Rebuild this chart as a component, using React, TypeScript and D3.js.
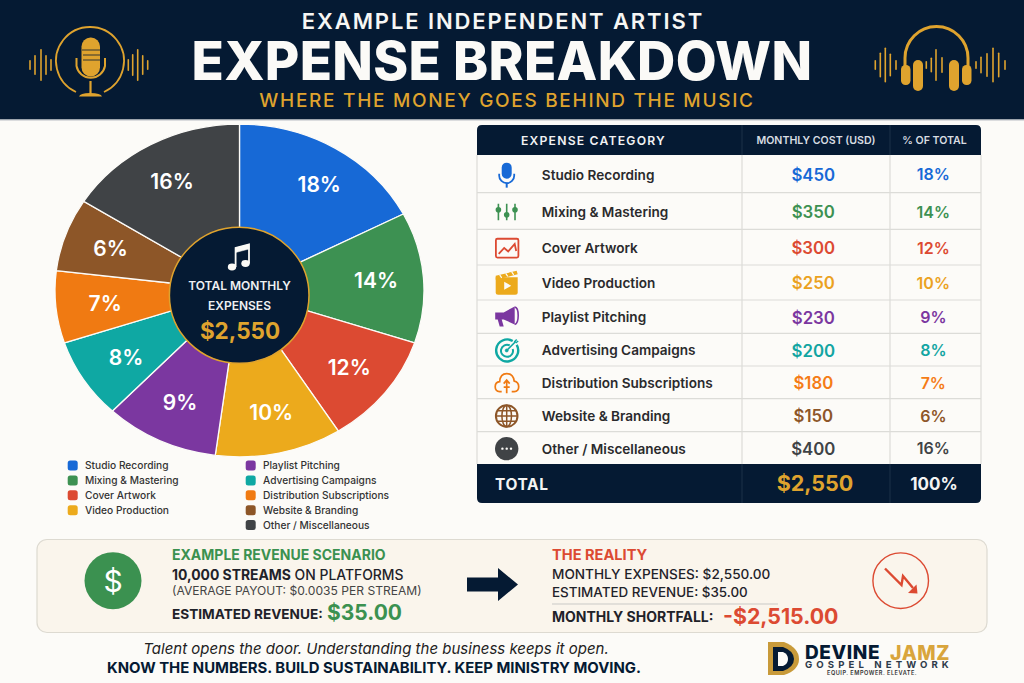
import * as d3 from "d3";
import type { ReactNode } from "react";

const categories = [
	"Studio Recording",
	"Mixing & Mastering",
	"Cover Artwork",
	"Video Production",
	"Playlist Pitching",
	"Advertising Campaigns",
	"Distribution Subscriptions",
	"Website & Branding",
	"Other / Miscellaneous",
];
const monthlyCosts = [450, 350, 300, 250, 230, 200, 180, 150, 400];
const percentLabels = [18, 14, 12, 10, 9, 8, 7, 6, 16];
// sizes of the slices as drawn, they do not quite follow the printed percentages
const sliceShares = [17.4, 12.7, 10.9, 11.1, 10, 7.8, 7, 7.1, 16];
const colors = ["#1769d6", "#3d9152", "#dc4a32", "#ecaa1c", "#7b37a0", "#0fa8a3", "#f07a12", "#8d5628", "#404346"];
const textColors = ["#1769d6", "#3d9152", "#dc4a32", "#eba21f", "#7b37a0", "#12a5a2", "#f57c16", "#8d5628", "#404346"];
const totalCost = "$2,550";

// layout only
const rowEdges = [155, 192.7, 229.3, 265, 300, 333.3, 366, 398.7, 431.7, 464];
const labelNudgeX = [8, -1, 1, 2, 0, 3, 3, 1, -1];

const NAVY = "#051a33";
const GOLD = "#dfa32e";
const PAPER = "#fcfbf8";
const FONT = "Inter, 'Noto Sans', sans-serif";

const waveMicLeft = [10, 20, 32, 20, 12];
const waveMicRight = [12, 22, 32, 20, 10];
const wavePhonesLeft = [10, 25, 35, 23, 10];
const wavePhonesMid = [8, 15, 32, 16];
const wavePhonesRight = [8, 17, 24, 35, 25, 10];

interface TProps {
	x: number;
	cy: number;
	size: number;
	weight?: number;
	fill?: string;
	anchor?: "start" | "middle" | "end";
	spacing?: number;
	italic?: boolean;
	children: ReactNode;
}

// text placed by the middle of its capitals
function T({ x, cy, size, weight = 500, fill = "#222", anchor = "start", spacing = 0, italic = false, children }: TProps) {
	return (
		<text
			x={x}
			y={cy + size * 0.364}
			fontFamily={FONT}
			fontSize={size}
			fontWeight={weight}
			fontStyle={italic ? "italic" : "normal"}
			fill={fill}
			textAnchor={anchor}
			letterSpacing={spacing}
		>
			{children}
		</text>
	);
}

function Wave({ xs, heights, cy }: { xs: number[]; heights: number[]; cy: number }) {
	return (
		<g fill={GOLD}>
			{heights.map((h, i) => (
				<rect key={i} x={xs[i] - 0.8} y={cy - h / 2} width={1.6} height={h} rx={0.8} />
			))}
		</g>
	);
}

function MicLogo() {
	return (
		<g>
			<path d="M76 92 A34 34 0 1 1 104 92" fill="none" stroke={GOLD} strokeWidth={1.8} />
			<rect x={81.5} y={37.5} width={18.5} height={39} rx={9} fill={GOLD} />
			<path d="M82 50H100M83 55H100M83 60H100" stroke={NAVY} strokeWidth={0.8} />
			<path d="M76.5 58V66A14.5 14.5 0 0 0 105 66V58" fill="none" stroke={GOLD} strokeWidth={2} />
			<path d="M90.5 81V95" stroke={GOLD} strokeWidth={2.2} />
			<path d="M79 96.5Q80 93 90 93Q101 93 102 96.5Z" fill={GOLD} />
			<Wave xs={[30, 35, 41, 46, 51]} heights={waveMicLeft} cy={65} />
			<Wave xs={[128.3, 132.7, 137.7, 142.7, 147.7]} heights={waveMicRight} cy={65} />
		</g>
	);
}

function PhonesLogo() {
	return (
		<g>
			<path d="M905 66V58A31.5 31.5 0 0 1 968 58V66" fill="none" stroke={GOLD} strokeWidth={3} />
			<rect x={901} y={65} width={9.5} height={20} rx={4.5} fill={GOLD} />
			<rect x={913} y={60} width={10} height={31} rx={5} fill={GOLD} />
			<rect x={949} y={60} width={10} height={31} rx={5} fill={GOLD} />
			<rect x={962} y={65} width={9.5} height={20} rx={4.5} fill={GOLD} />
			<Wave xs={[875.3, 880.3, 885.3, 890.3, 896]} heights={wavePhonesLeft} cy={65} />
			<Wave xs={[926.3, 931.3, 936, 942]} heights={wavePhonesMid} cy={65} />
			<Wave xs={[976, 981, 987, 993, 998.7, 1005]} heights={wavePhonesRight} cy={65} />
		</g>
	);
}

// table icons, drawn around 0,0
const rowIcons: ((color: string) => ReactNode)[] = [
	(c) => (
		<g>
			<rect x={-5} y={-12} width={10} height={16} rx={5} fill={c} />
			<path d="M-7.5 -1V1A7.5 7.5 0 0 0 7.5 1V-1" fill="none" stroke={c} strokeWidth={1.8} />
			<path d="M0 8V13" stroke={c} strokeWidth={2} />
		</g>
	),
	(c) => (
		<g stroke={c} strokeWidth={1.6} fill={c}>
			<path d="M-8.3 -8V8.5M0 -8V8.5M8.3 -8V8.5" />
			<circle cx={-8.3} cy={-2} r={2} />
			<circle cx={0} cy={3} r={2} />
			<circle cx={8.3} cy={-2} r={2} />
		</g>
	),
	(c) => (
		<g fill="none" stroke={c}>
			<rect x={-10.8} y={-9.2} width={22.5} height={18.8} rx={1.5} strokeWidth={1.8} />
			<path d="M-8 6L-2.5 0L1.5 3.5L8 -4L9.5 3" strokeWidth={1.8} />
		</g>
	),
	(c) => (
		<g>
			<path d="M-11 -6H11V9Q11 11.5 8.5 11.5H-8.5Q-11 11.5 -11 9Z" fill={c} />
			<path d="M-11 -7.5L10 -12.5L11 -9L-11 -3.5Z" fill={c} />
			<path d="M-7 -8.5L-5 -5.5M-1 -10L1 -7M5 -11.5L7 -8.5" stroke={PAPER} strokeWidth={1.2} />
			<path d="M-2.5 -1.5L4.5 2.5L-2.5 6.5Z" fill={PAPER} />
		</g>
	),
	(c) => (
		<g fill={c}>
			<path d="M-11.5 -5H-3L8 -11V7L-3 2H-5L-3 9H-7L-9 2H-11.5Z" />
			<path d="M8 -10.5Q11.5 -10 11.5 -2Q11.5 6 8 7" fill="none" stroke={c} strokeWidth={1.6} />
		</g>
	),
	(c) => (
		<g fill="none" stroke={c}>
			<path d="M6 -9.5A11 11 0 1 0 10 -5.5" strokeWidth={2.4} />
			<path d="M3 -5A6 6 0 1 0 6 -1.5" strokeWidth={2} />
			<circle cx={0} cy={0} r={1.6} fill={c} strokeWidth={0.5} />
			<path d="M0 0L9 -9" strokeWidth={1.6} />
			<path d="M7.5 -8.5L10 -11M9 -7.5L11.5 -9.5" strokeWidth={1.4} />
		</g>
	),
	(c) => (
		<g fill="none" stroke={c} strokeWidth={1.7}>
			<path d="M-5 8.5H-7Q-11.5 8 -11.5 3.5Q-11.5 -1 -7 -1.5Q-6.5 -9.5 0 -9.5Q6.5 -9.5 7.5 -2Q12 -1 12 3.5Q12 8 7.5 8.5H5" />
			<path d="M0 10V-3M-3 0.5L0 -3L3 0.5M-3 4H3" />
		</g>
	),
	(c) => (
		<g fill="none" stroke={c} strokeWidth={1.5}>
			<circle r={10.8} strokeWidth={2} />
			<ellipse rx={4.8} ry={10.8} />
			<path d="M0 -10.8V10.8M-10.8 0H10.8M-9.5 -5.2H9.5M-9.5 5.2H9.5" />
		</g>
	),
	(c) => (
		<g>
			<circle r={11.7} fill={c} />
			<circle cx={-4.3} r={1.2} fill={PAPER} />
			<circle r={1.2} fill={PAPER} />
			<circle cx={4.3} r={1.2} fill={PAPER} />
		</g>
	),
];

function PieChart() {
	const cx = 239.5;
	const cy = 290.5;
	const radius = 184.5;
	const squash = 0.902;
	const pie = d3
		.pie<number>()
		.sort(null)
		.value((d) => d);
	const slices = pie(sliceShares);
	const arc = d3.arc<d3.PieArcDatum<number>>().innerRadius(0).outerRadius(radius);
	const labelArc = d3.arc<d3.PieArcDatum<number>>().innerRadius(138).outerRadius(138);

	return (
		<g>
			<g transform={`translate(${cx},${cy}) scale(1,${squash})`}>
				{slices.map((s, i) => (
					<path
						key={i}
						d={arc(s) ?? ""}
						fill={colors[i]}
						stroke={PAPER}
						strokeWidth={1.3}
						vectorEffect="non-scaling-stroke"
					/>
				))}
			</g>
			{slices.map((s, i) => {
				const [lx, ly] = labelArc.centroid(s);
				return (
					<T key={i} x={cx + lx + labelNudgeX[i]} cy={cy + ly * squash} size={21} weight={600} fill="#fff" anchor="middle">
						{percentLabels[i]}%
					</T>
				);
			})}
			<ellipse cx={239.2} cy={295.3} rx={69.8} ry={68} fill={NAVY} stroke={GOLD} strokeWidth={1.5} />
			<g fill="#fbfaf6" stroke="#fbfaf6">
				<ellipse cx={232} cy={267} rx={4.2} ry={3.4} strokeWidth={0} />
				<ellipse cx={245.5} cy={263.5} rx={4.2} ry={3.4} strokeWidth={0} />
				<path d="M235.6 267V248L249 244.5V263.5" fill="none" strokeWidth={1.8} />
				<path d="M235.6 248L249 244.5V249L235.6 252.5Z" strokeWidth={0.5} />
			</g>
			<T x={239.5} cy={286} size={12} weight={600} fill="#eef0f2" anchor="middle">
				TOTAL MONTHLY
			</T>
			<T x={239.5} cy={306} size={12} weight={600} fill="#eef0f2" anchor="middle">
				EXPENSES
			</T>
			<T x={240} cy={330.5} size={22.5} weight={700} fill={GOLD} anchor="middle">
				{totalCost}
			</T>
		</g>
	);
}

function Legend() {
	const yPos = d3.scaleLinear().domain([0, 4]).range([465.5, 525]);
	return (
		<g>
			{categories.map((name, i) => {
				const right = i >= 4;
				const row = right ? i - 4 : i;
				const x = right ? 250.7 : 72.7;
				return (
					<g key={name}>
						<rect x={x - 5} y={yPos(row) - 5} width={10} height={10} rx={2.5} fill={colors[i]} />
						<T x={x + 12.3} cy={yPos(row)} size={10.2} weight={500} fill="#333">
							{name}
						</T>
					</g>
				);
			})}
		</g>
	);
}

function ExpenseTable() {
	const x0 = 477;
	const x1 = 981;
	const col1 = 742;
	const col2 = 890;
	return (
		<g>
			<rect x={x0} y={155} width={x1 - x0} height={309} fill="#fcfbf8" />
			<path
				d={`M${x0} 155V130Q${x0} 125 ${x0 + 5} 125H${x1 - 5}Q${x1} 125 ${x1} 130V155Z`}
				fill={NAVY}
			/>
			<path
				d={`M${x0} 464V498Q${x0} 503 ${x0 + 5} 503H${x1 - 5}Q${x1} 503 ${x1} 498V464Z`}
				fill={NAVY}
			/>
			<g stroke="#dcdcd8" strokeWidth={1.2}>
				{rowEdges.slice(1, -1).map((y) => (
					<line key={y} x1={x0} x2={x1} y1={y} y2={y} />
				))}
				<line x1={x0} x2={x0} y1={155} y2={464} />
				<line x1={x1} x2={x1} y1={155} y2={464} />
				<line x1={col1} x2={col1} y1={155} y2={464} />
				<line x1={col2} x2={col2} y1={155} y2={464} />
			</g>
			<g stroke="#1d3149" strokeWidth={1}>
				<line x1={col1} x2={col1} y1={125} y2={155} />
				<line x1={col2} x2={col2} y1={125} y2={155} />
				<line x1={col1} x2={col1} y1={464} y2={503} />
				<line x1={col2} x2={col2} y1={464} y2={503} />
			</g>
			<T x={521} cy={140.5} size={12.2} weight={600} fill="#f1f2f3" spacing={1.2}>
				EXPENSE CATEGORY
			</T>
			<T x={816} cy={140.5} size={10.6} weight={600} fill="#d8dde2" anchor="middle">
				MONTHLY COST (USD)
			</T>
			<T x={934.5} cy={140.5} size={10.6} weight={600} fill="#d8dde2" anchor="middle">
				% OF TOTAL
			</T>
			{categories.map((name, i) => {
				const cy = (rowEdges[i] + rowEdges[i + 1]) / 2 + 0.8;
				return (
					<g key={name}>
						<g transform={`translate(506.7,${cy})`}>{rowIcons[i](colors[i])}</g>
						<T x={541.8} cy={cy} size={13.6} weight={600} fill="#2a2a2c">
							{name}
						</T>
						<T x={813.3} cy={cy} size={16.8} weight={600} fill={textColors[i]} anchor="middle">
							${monthlyCosts[i]}
						</T>
						<T x={933.3} cy={cy} size={16} weight={600} fill={textColors[i]} anchor="middle">
							{percentLabels[i]}%
						</T>
					</g>
				);
			})}
			<T x={495} cy={484.3} size={15.5} weight={700} fill="#f4f4f4" spacing={0.6}>
				TOTAL
			</T>
			<T x={815} cy={483.5} size={21.5} weight={700} fill={GOLD} anchor="middle">
				{totalCost}
			</T>
			<T x={934} cy={484} size={17} weight={700} fill="#f4f4f4" anchor="middle">
				100%
			</T>
		</g>
	);
}

function RevenuePanel() {
	return (
		<g>
			<rect x={37} y={539.5} width={950} height={93} rx={10} fill="#faf5ec" stroke="#dddad1" strokeWidth={1.2} />
			<circle cx={113} cy={580.7} r={28.5} fill="#3b9150" />
			<T x={113} cy={581} size={30} weight={400} fill="#fff" anchor="middle">
				$
			</T>
			<T x={172} cy={555} size={14} weight={700} fill="#3b9150">
				EXAMPLE REVENUE SCENARIO
			</T>
			<T x={172} cy={575} size={13.9} weight={500} fill="#1f2229">
				<tspan fontWeight={700}>10,000 STREAMS</tspan> ON PLATFORMS
			</T>
			<T x={172} cy={591} size={12.1} weight={400} fill="#444">
				(AVERAGE PAYOUT: $0.0035 PER STREAM)
			</T>
			<T x={172} cy={614} size={13.6} weight={700} fill="#1f2229">
				ESTIMATED REVENUE:
			</T>
			<T x={327} cy={612.5} size={21} weight={700} fill="#3b9150">
				$35.00
			</T>
			<path d="M467 577.5H498V568L518 584.5L498 601V591.5H467Z" fill={NAVY} />
			<T x={552} cy={555} size={14.6} weight={700} fill="#dc4a32">
				THE REALITY
			</T>
			<T x={552} cy={574.5} size={13.6} weight={500} fill="#1f2229">
				MONTHLY EXPENSES: $2,550.00
			</T>
			<T x={552} cy={592} size={13.4} weight={500} fill="#1f2229">
				ESTIMATED REVENUE: $35.00
			</T>
			<line x1={552} x2={778} y1={604} y2={604} stroke="#c9c9c6" strokeWidth={1} />
			<T x={552} cy={617} size={14} weight={700} fill="#1f2229">
				MONTHLY SHORTFALL:
			</T>
			<T x={723} cy={616.5} size={21.3} weight={700} fill="#dc4a32">
				-$2,515.00
			</T>
			<circle cx={900.7} cy={580.7} r={27.8} fill="none" stroke="#dc4a32" strokeWidth={1.4} />
			<path d="M885 568.5L901.5 585L903 576L913 588" fill="none" stroke="#dc4a32" strokeWidth={2.4} />
			<path d="M917.5 593.5L908 593L916.5 584.5Z" fill="#dc4a32" />
		</g>
	);
}

function Footer() {
	return (
		<g>
			<T x={143.3} cy={649} size={15} weight={400} fill="#222" italic>
				Talent opens the door. Understanding the business keeps it open.
			</T>
			<T x={107} cy={668} size={14.9} weight={700} fill={NAVY}>
				KNOW THE NUMBERS. BUILD SUSTAINABILITY. KEEP MINISTRY MOVING.
			</T>
			<path d="M768 642H784Q799 648 799 659Q799 670 784 675H768Z" fill="#c89a3a" />
			<path d="M773 647H783Q794 651 794 659Q794 667 783 671H773Z" fill={NAVY} />
			<path d="M778 652H783Q788 654 788 659Q788 664 783 666H778Z" fill={PAPER} />
			<T x={805} cy={652.5} size={19} weight={800} fill={NAVY} spacing={0.6}>
				DEVINE
			</T>
			<T x={890} cy={652.5} size={19.5} weight={800} fill="#d9a53c" spacing={0.6}>
				JAMZ
			</T>
			<T x={805} cy={665} size={9.6} weight={700} fill="#2d3a4a" spacing={4.1}>
				GOSPEL NETWORK
			</T>
			<T x={827} cy={673.3} size={5.6} weight={600} fill="#333" spacing={0.5}>
				EQUIP. EMPOWER. ELEVATE.
			</T>
		</g>
	);
}

export default function App() {
	return (
		<div style={{ position: "absolute", left: 0, top: 0 }}>
			<svg width={1024} height={683} viewBox="0 0 1024 683" style={{ display: "block" }}>
				<rect width={1024} height={683} fill={PAPER} />
				<rect width={1024} height={119.5} fill={NAVY} />
				<line x1={0} x2={1024} y1={120} y2={120} stroke="#b9bec4" strokeWidth={1} />
				<MicLogo />
				<PhonesLogo />
				<T x={503} cy={21} size={22} weight={600} fill="#f6f6f4" anchor="middle" spacing={1.9}>
					EXAMPLE INDEPENDENT ARTIST
				</T>
				<T x={502} cy={60.5} size={53} weight={800} fill="#fbfaf7" anchor="middle" spacing={0.3}>
					EXPENSE BREAKDOWN
				</T>
				<T x={507} cy={99.8} size={19} weight={500} fill={GOLD} anchor="middle" spacing={1.7}>
					WHERE THE MONEY GOES BEHIND THE MUSIC
				</T>
				<PieChart />
				<Legend />
				<ExpenseTable />
				<RevenuePanel />
				<Footer />
			</svg>
		</div>
	);
}
